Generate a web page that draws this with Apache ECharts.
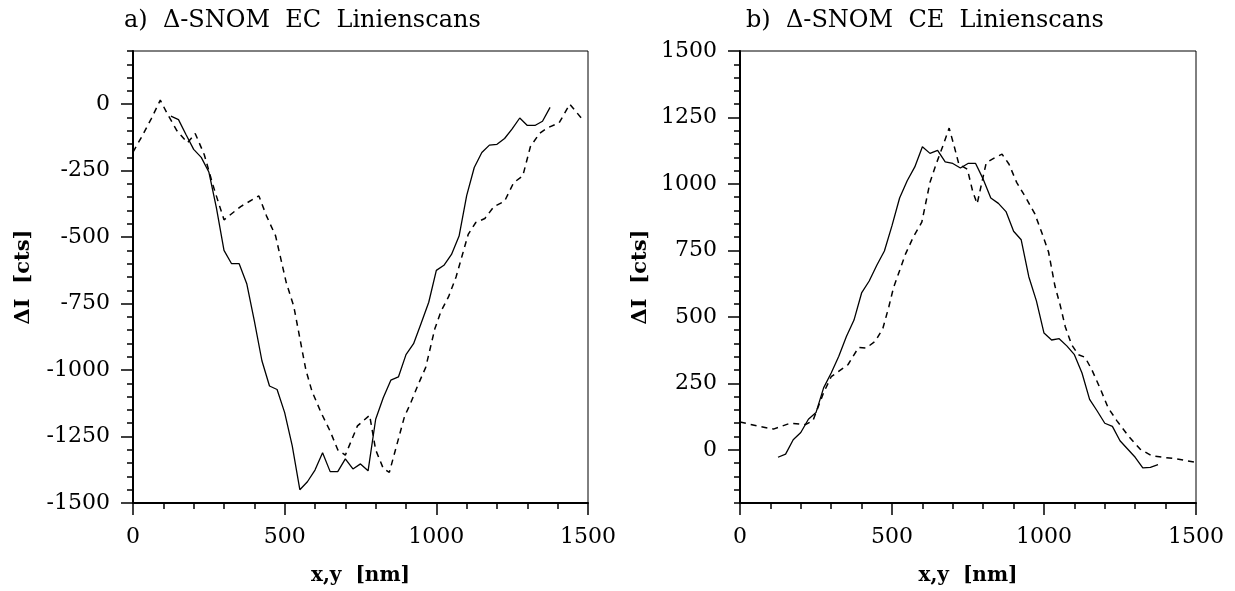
<!DOCTYPE html>
<html>
<head>
<meta charset="utf-8">
<script src="https://cdn.jsdelivr.net/npm/echarts@6/dist/echarts.min.js"></script>
<style>
  html, body { margin: 0; padding: 0; background: #fff; }
  #divChart { width: 1235px; height: 591px; }
</style>
</head>
<body>
<div id="divChart"></div>
<script>
// a) EC line scans
var ecSolidX = [125, 150, 175, 200, 225, 250, 275, 300, 325, 350, 375, 400, 425, 450, 475, 500, 525, 550, 575, 600, 625, 650, 675, 700, 725, 750, 775, 800, 825, 850, 875, 900, 925, 950, 975, 1000, 1025, 1050, 1075, 1100, 1125, 1150, 1175, 1200, 1225, 1250, 1275, 1300, 1325, 1350, 1375];
var ecSolidY = [-45, -58, -115, -170, -200, -255, -390, -550, -600, -600, -675, -815, -965, -1060, -1073, -1160, -1285, -1450, -1420, -1376, -1311, -1382, -1382, -1334, -1372, -1353, -1379, -1185, -1104, -1038, -1026, -942, -901, -824, -745, -625, -606, -565, -496, -344, -238, -182, -154, -151, -129, -93, -52, -80, -80, -64, -12];
var ecDashX = [0, 30, 60, 90, 115, 145, 180, 205, 235, 265, 300, 355, 415, 440, 470, 505, 530, 550, 570, 590, 620, 650, 675, 700, 740, 780, 800, 825, 845, 870, 895, 915, 940, 965, 995, 1015, 1040, 1065, 1085, 1105, 1130, 1160, 1190, 1225, 1255, 1285, 1310, 1340, 1365, 1405, 1440, 1480];
var ecDashY = [-180, -120, -55, 15, -40, -100, -145, -110, -190, -310, -435, -385, -345, -420, -495, -670, -760, -880, -1000, -1080, -1160, -1230, -1300, -1320, -1210, -1170, -1300, -1370, -1385, -1280, -1175, -1125, -1055, -990, -845, -780, -725, -650, -570, -490, -445, -430, -385, -365, -295, -270, -160, -110, -90, -70, 0, -55];

// b) CE line scans
var ceSolidX = ecSolidX;
var ceSolidY = [-28, -16, 38, 65, 115, 140, 233, 289, 352, 426, 488, 590, 635, 694, 748, 843, 947, 1012, 1064, 1140, 1115, 1126, 1083, 1077, 1060, 1077, 1077, 1018, 947, 927, 896, 822, 790, 651, 560, 439, 413, 418, 391, 358, 289, 190, 146, 100, 88, 34, 3, -28, -68, -66, -56];
var ceDashX = [0, 55, 110, 165, 215, 240, 275, 300, 355, 390, 415, 445, 470, 490, 505, 545, 570, 598, 625, 645, 668, 688, 705, 720, 748, 765, 780, 798, 810, 840, 862, 885, 910, 943, 970, 992, 1015, 1036, 1053, 1070, 1091, 1113, 1135, 1157, 1184, 1211, 1240, 1277, 1316, 1354, 1392, 1436, 1497];
var ceDashY = [105, 90, 78, 100, 95, 110, 215, 275, 320, 385, 383, 408, 457, 540, 610, 738, 800, 856, 1006, 1074, 1145, 1210, 1140, 1074, 1055, 974, 925, 1018, 1080, 1100, 1112, 1074, 1006, 943, 887, 819, 744, 616, 545, 463, 395, 358, 348, 302, 233, 158, 109, 53, 3, -22, -28, -34, -47];

var ecMajorTicks = [-1500, -1250, -1000, -750, -500, -250, 0];
var ceMajorTicks = [0, 250, 500, 750, 1000, 1250, 1500];

var titles = ['a)  \u0394-SNOM  EC  Linienscans', 'b)  \u0394-SNOM  CE  Linienscans'];
var xName = 'x,y  [nm]';
var yName = '\u0394I  [cts]';

var FONT = 'DejaVu Serif';

function pairs(xs, ys) {
    var out = [];
    for (let i = 0; i < xs.length; ++i) {
        out.push([xs[i], ys[i]]);
    }
    return out;
}

function plain(v) {
    return String(v);
}

function makeX(idx) {
    return {
        type: 'value',
        gridIndex: idx,
        min: 0,
        max: 1500,
        interval: 500,
        name: xName,
        nameLocation: 'middle',
        nameGap: 63,
        nameTextStyle: { fontFamily: FONT, fontSize: 20, fontWeight: 'bold', color: '#000' },
        axisLine: { onZero: false, lineStyle: { color: '#000', width: 2 } },
        axisTick: { length: 12, lineStyle: { color: '#000', width: 1.5 } },
        minorTick: { show: true, splitNumber: 5, length: 6, lineStyle: { color: '#000', width: 1.5 } },
        axisLabel: { margin: 23, fontFamily: FONT, fontSize: 22, color: '#000', formatter: plain },
        splitLine: { show: false }
    };
}

function makeYMinor(idx, lo, hi) {
    return {
        type: 'value',
        gridIndex: idx,
        position: 'left',
        min: lo,
        max: hi,
        interval: 50,
        axisLine: { onZero: false, lineStyle: { color: '#000', width: 2 } },
        axisTick: { length: 6, lineStyle: { color: '#000', width: 1.5 } },
        axisLabel: { show: false },
        splitLine: { show: false }
    };
}

function makeYMajor(idx, lo, hi, ticks, gap) {
    return {
        type: 'value',
        gridIndex: idx,
        position: 'left',
        min: lo,
        max: hi,
        name: yName,
        nameLocation: 'middle',
        nameGap: gap,
        nameTextStyle: { fontFamily: FONT, fontSize: 21, fontWeight: 'bold', color: '#000' },
        axisLine: { show: false, onZero: false },
        axisTick: { customValues: ticks, length: 12, lineStyle: { color: '#000', width: 1.5 } },
        axisLabel: { customValues: ticks, margin: 23, fontFamily: FONT, fontSize: 22, color: '#000', formatter: plain },
        splitLine: { show: false }
    };
}

function lineSeries(idx, data, dashed) {
    return {
        type: 'line',
        xAxisIndex: idx,
        yAxisIndex: idx * 2,
        data: data,
        showSymbol: false,
        lineStyle: { color: '#000', width: dashed ? 1.5 : 1.3, type: dashed ? [6, 5] : 'solid' },
        silent: true
    };
}

var chart = echarts.init(document.getElementById('divChart'));
var option = {
    animation: false,
    backgroundColor: '#fff',
    title: [
        { text: titles[0], left: 119, top: 4, textStyle: { fontFamily: FONT, fontSize: 24, fontWeight: 'normal', color: '#000' } },
        { text: titles[1], left: 741, top: 4, textStyle: { fontFamily: FONT, fontSize: 24, fontWeight: 'normal', color: '#000' } }
    ],
    grid: [
        { left: 133, top: 51, width: 455, height: 455, show: true, borderColor: '#000', borderWidth: 1 },
        { left: 740, top: 51, width: 456, height: 455, show: true, borderColor: '#000', borderWidth: 1 }
    ],
    xAxis: [makeX(0), makeX(1)],
    yAxis: [
        makeYMinor(0, -1500, 200),
        makeYMajor(0, -1500, 200, ecMajorTicks, 99),
        makeYMinor(1, -200, 1500),
        makeYMajor(1, -200, 1500, ceMajorTicks, 89)
    ],
    series: [
        lineSeries(0, pairs(ecSolidX, ecSolidY), false),
        lineSeries(0, pairs(ecDashX, ecDashY), true),
        lineSeries(1, pairs(ceSolidX, ceSolidY), false),
        lineSeries(1, pairs(ceDashX, ceDashY), true)
    ]
};
chart.setOption(option);
</script>
</body>
</html>
